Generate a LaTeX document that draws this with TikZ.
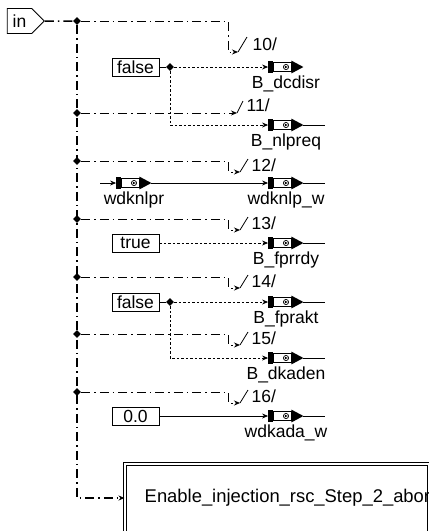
\documentclass[tikz,border=0pt]{standalone}
\usepackage{fontspec}
\setmainfont{Liberation Sans}
\usetikzlibrary{shapes.symbols,shapes.geometric,arrows.meta}

\newcommand{\msgblk}[4]{%
	\node[msgbody] (#1) at (#2,#3) {};
	\fill ([shift={(-4.5pt,0.7pt)}]#1.north west) rectangle ([yshift=-0.7pt]#1.south west);
	\fill ([yshift=1.5pt]#1.north east) -- ([xshift=12pt]#1.east) -- ([yshift=-1.5pt]#1.south east) -- cycle;
	\draw[line width=0.7pt] ([xshift=4pt]#1.center) circle (2.6pt);
	\fill ([shift={(2.8pt,1.4pt)}]#1.center) -- ([xshift=5.8pt]#1.center) -- ([shift={(2.8pt,-1.4pt)}]#1.center) -- cycle;
	\coordinate (#1-in) at ([xshift=-4.5pt]#1.west);
	\coordinate (#1-out) at ([xshift=12pt]#1.east);
	\node (#1-lbl) at ([shift={(4pt,-17pt)}]#1.center) {#4};
}

\begin{document}
\begin{tikzpicture}[x=1pt, y=-1pt, font=\fontsize{17.5}{20}\selectfont, line width=0.8pt,
		jdot/.style={diamond, fill, inner sep=0pt, minimum size=8pt},
		cst/.style={draw, minimum width=47pt, minimum height=18pt, inner sep=0pt},
		msgbody/.style={draw, fill=white, minimum width=18pt, minimum height=9pt, inner sep=0pt},
		trig/.style={dash pattern=on 9pt off 4pt on 1.5pt off 4pt},
		trunk/.style={trig, line width=1.5pt},
		dat/.style={dash pattern=on 2.5pt off 2pt},
		arr/.style={-{Stealth[length=6pt,width=5pt]}}]
	\useasboundingbox (0,0) rectangle (429,531);
	\clip (0,0) rectangle (429,531);

	\node[draw, signal, signal to=east, minimum height=25pt, inner xsep=5.5pt, inner ysep=0pt] (in) at (19.5,21) {in};
	\node[jdot] (j10) at (77,21) {};
	\foreach \n/\y in {11/113,12/161,13/219,14/277,15/334,16/392}
		\node[jdot] (j\n) at (77,\y) {};
	\coordinate (tb) at (77,498);

	\node[draw, double, double distance=2pt, anchor=north west, minimum width=304pt, minimum height=80pt] (abort) at (124.5,463.5) {};
	\node[anchor=west, font=\fontsize{18.4}{20}\selectfont] (abort-txt) at (141,498) {Enable\_injection\_rsc\_Step\_2\_abort};

	\draw[trunk] (in) -- (j10);
	\draw[trunk, arr] (j10) -- (tb) -- (tb -| abort.west);

	\coordinate (c10) at (228,21);
	\coordinate (e10) at (238,52);
	\draw[trig, arr] (j10) -- (c10) |- (e10);
	\draw (e10) -- ++(9,-15);
	\node[anchor=west] (n10) at (249,44) {10/};

	\coordinate (e11) at (237,113);
	\draw[trig, arr] (j11) -- (e11);
	\draw (e11) -- ++(6,-12);
	\node[anchor=west] (n11) at (243,105) {11/};

	\foreach \n/\y in {12/161,13/219,14/277,15/334,16/392}{
		\coordinate (c\n) at (228,\y);
		\coordinate (e\n) at (240,\y+11);
		\draw[trig, arr] (j\n) -- (c\n) |- (e\n);
		\draw (e\n) -- ++(8,-13);
		\node[anchor=west] (n\n) at (248,\y+4) {\n/};
	}

	\msgblk{dcdisr}{282}{67}{B\_dcdisr}
	\msgblk{nlpreq}{282}{125}{B\_nlpreq}
	\msgblk{knlpr}{130}{183}{wdknlpr}
	\msgblk{knlpw}{282}{183}{wdknlp\_w}
	\msgblk{fprrdy}{282}{243}{B\_fprrdy}
	\msgblk{fprakt}{282}{302}{B\_fprakt}
	\msgblk{dkaden}{282}{358}{B\_dkaden}
	\msgblk{kadaw}{282}{416}{wdkada\_w}

	\node[cst] (f1) at (135.5,67) {false};
	\node[cst] (tr) at (135.5,243) {true};
	\node[cst] (f2) at (135.5,302) {false};
	\node[cst] (z) at (135.5,416) {0.0};
	\node[jdot] (jf1) at (170,67) {};
	\node[jdot] (jf2) at (170,302) {};

	\draw (f1) -- (jf1);
	\draw[dat, arr] (jf1) -- (dcdisr-in);
	\draw[dat, arr] (jf1) |- (nlpreq-in);
	\draw[dat, arr] (tr) -- (fprrdy-in);
	\draw (f2) -- (jf2);
	\draw[dat, arr] (jf2) -- (fprakt-in);
	\draw[dat, arr] (jf2) |- (dkaden-in);
	\draw[arr] (z) -- (kadaw-in);
	\coordinate (src) at (100,183);
	\draw[arr] (src) -- (knlpr-in);
	\draw[arr] (knlpr-out) -- (knlpw-in);
	\foreach \b in {nlpreq,knlpw,fprrdy,fprakt,dkaden,kadaw}
		\draw (\b-out) -- ++(22,0);
\end{tikzpicture}
\end{document}
